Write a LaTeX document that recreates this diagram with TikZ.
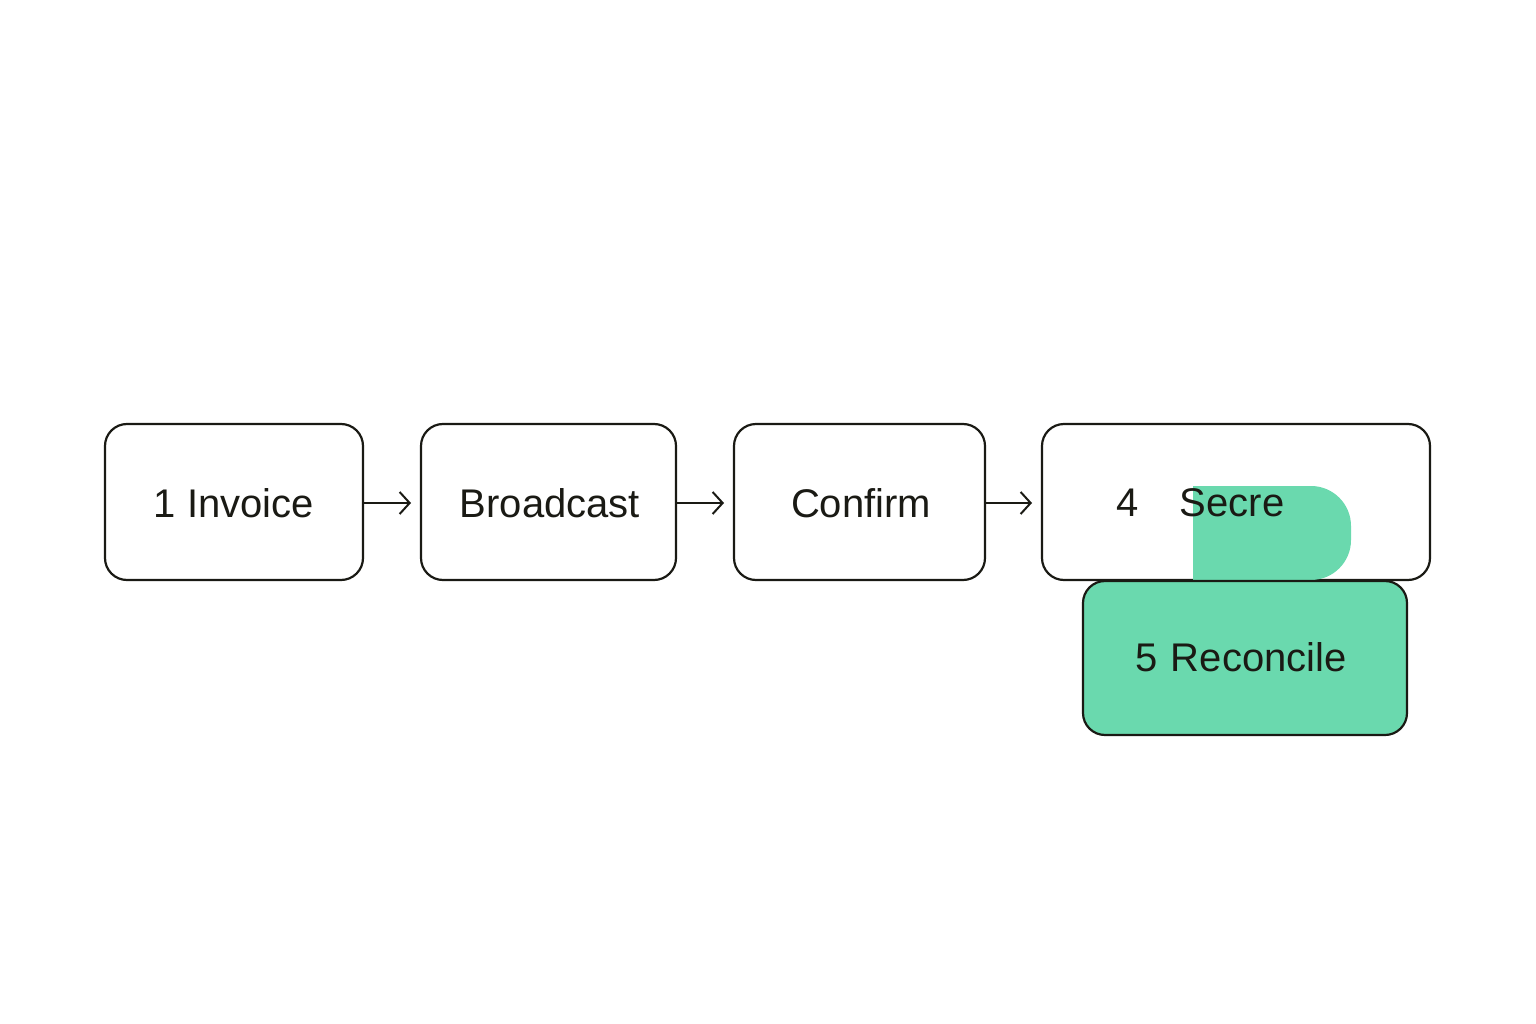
\documentclass[tikz,border=0pt]{standalone}
\usepackage{fontspec}
\setmainfont{Liberation Sans}
\usetikzlibrary{arrows.meta}
\definecolor{mint}{HTML}{6AD9AE}
\definecolor{ink}{HTML}{1A1A14}
\begin{document}
\begin{tikzpicture}[x=1pt,y=-1pt,
  box/.style={draw=ink,line width=2.2pt,rounded corners=22pt},
  lbl/.style={font=\fontsize{40}{48}\selectfont,text=ink,inner sep=0pt},
  arr/.style={draw=ink,line width=2pt,-{Straight Barb[length=10pt,width=22pt,line width=2pt]}}]
\useasboundingbox (0,0) rectangle (1536,1024);
\draw[box] (105,424) rectangle (363,580);
\draw[box] (421,424) rectangle (676,580);
\draw[box] (734,424) rectangle (985,580);
\draw[box] (1042,424) rectangle (1430,580);
\fill[mint,rounded corners=40pt] (1193,580) -- (1193,486) -- (1351,486) -- (1351,580) -- cycle;
\fill[mint] (1193,486) rectangle (1260,580);
\draw[box,fill=mint] (1083,581) rectangle (1407,735);
\coordinate (b1) at (363,503); \coordinate (b2) at (421,503);
\coordinate (b3) at (676,503); \coordinate (b4) at (734,503);
\coordinate (b5) at (985,503); \coordinate (b6) at (1042,503);
\node[lbl] (t1) at (234,503) {1 Invoice};
\node[lbl] (t2) at (550,503) {Broadcast};
\node[lbl] (t3) at (861,503) {Confirm};
\node[lbl] (t4a) at (1128,503) {4};
\node[lbl] (t4b) at (1232,503) {Secre};
\node[lbl] (t5) at (1241,657) {5\,\,Reconcile};
\draw[arr] (b1) -- ([xshift=-10pt]b2);
\draw[arr] (b3) -- ([xshift=-10pt]b4);
\draw[arr] (b5) -- ([xshift=-10pt]b6);
\end{tikzpicture}
\end{document}
